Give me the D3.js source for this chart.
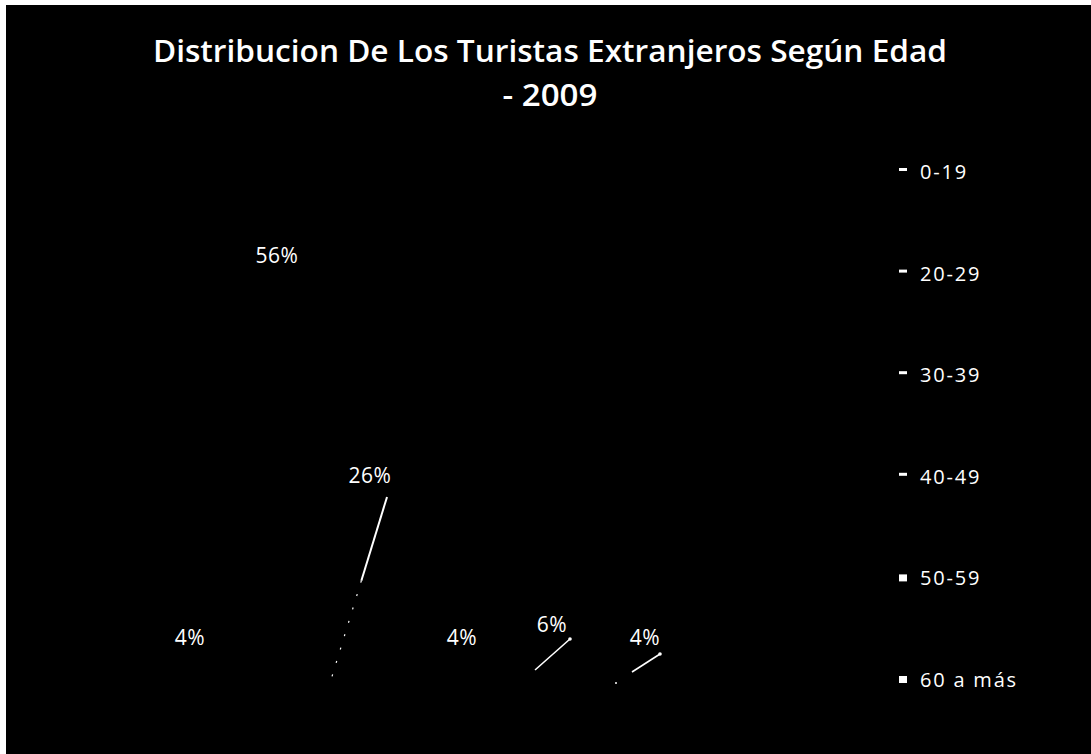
<!DOCTYPE html>
<html>
<head>
<meta charset="utf-8">
<script src="https://cdn.jsdelivr.net/npm/d3@7"></script>
<style>
  html, body { margin: 0; padding: 0; background: #fff; }
  svg { display: block; }
</style>
</head>
<body>
<svg id="chart" width="1091" height="754"></svg>
<script>
// ---- data ----
const title1 = "Distribucion De Los Turistas Extranjeros Según Edad";
const title2 = "- 2009";
const categories = ["0-19", "20-29", "30-39", "40-49", "50-59", "60 a más"];
const values = [4, 56, 26, 4, 6, 4];

// ---- layout (not data) ----
const W = 1091, H = 754;
const pieCenter = [410, 470], pieRadius = 215;
// label anchor offsets from the pie centre (text centre, baseline)
const labelOffsets = [[-220, 175], [-133, -207], [-40, 13], [52, 175], [142, 162], [235, 175]];
// leader lines (start, end) relative to the pie centre; null = none
const leaderOffsets = [null, null, [[-23, 27], [-80, 213]], null, [[160, 169], [125, 200]], [[250, 184], [222, 202]]];

const svg = d3.select("#chart");
svg.append("rect").attr("width", W).attr("height", H).attr("fill", "#fff");
svg.append("rect").attr("x", 6).attr("y", 5).attr("width", W - 6).attr("height", H - 5).attr("fill", "#000");

// title
svg.append("text").attr("x", 550).attr("y", 62).attr("text-anchor", "middle")
  .attr("font-family", "'Open Sans', sans-serif").attr("font-weight", 600).attr("font-size", 31)
  .attr("textLength", 794).attr("lengthAdjust", "spacingAndGlyphs")
  .attr("fill", "#fff").text(title1);
svg.append("text").attr("x", 550).attr("y", 106).attr("text-anchor", "middle")
  .attr("font-family", "'Open Sans', sans-serif").attr("font-weight", 600).attr("font-size", 31)
  .attr("textLength", 95).attr("lengthAdjust", "spacingAndGlyphs")
  .attr("fill", "#fff").text(title2);

// pie (slices are black on black, as in the reference)
const pie = d3.pie().sort(null).value(d => d)(values);
const arc = d3.arc().innerRadius(0).outerRadius(pieRadius);
const g = svg.append("g").attr("transform", `translate(${pieCenter[0]},${pieCenter[1]})`);
g.selectAll("path.slice").data(pie).join("path").attr("class", "slice")
  .attr("d", arc).attr("fill", "#000").attr("stroke", "#000");

const total = d3.sum(values);
const fmt = d3.format(".0%");

// leader lines
pie.forEach((p, i) => {
  const l = leaderOffsets[i];
  if (!l) return;
  if (i === 2) {
    const mid = [l[0][0] + (l[1][0] - l[0][0]) * 0.45, l[0][1] + (l[1][1] - l[0][1]) * 0.45];
    g.append("line").attr("x1", l[0][0]).attr("y1", l[0][1]).attr("x2", mid[0]).attr("y2", mid[1])
      .attr("stroke", "#fff").attr("stroke-width", 2);
    g.append("line").attr("x1", mid[0]).attr("y1", mid[1]).attr("x2", l[1][0]).attr("y2", l[1][1])
      .attr("stroke", "#fff").attr("stroke-width", 1.2).attr("stroke-dasharray", "2,12");
  } else {
    g.append("line").attr("x1", l[0][0]).attr("y1", l[0][1]).attr("x2", l[1][0]).attr("y2", l[1][1])
      .attr("stroke", "#fff").attr("stroke-width", 1.6);
    g.append("circle").attr("cx", l[0][0]).attr("cy", l[0][1]).attr("r", 1.8).attr("fill", "#fff");
  }
});
// stray dot near the last slice
g.append("circle").attr("cx", leaderOffsets[5][1][0] - 16).attr("cy", leaderOffsets[5][1][1] + 11)
  .attr("r", 1).attr("fill", "#fff");

// data labels
g.selectAll("text.lbl").data(pie).join("text").attr("class", "lbl")
  .attr("x", (d, i) => labelOffsets[i][0]).attr("y", (d, i) => labelOffsets[i][1])
  .attr("text-anchor", "middle")
  .attr("font-family", "'Open Sans', sans-serif").attr("font-size", 21)
  .attr("letter-spacing", 0.5)
  .attr("fill", "#fff")
  .text(d => fmt(d.value / total));

// legend
const ly = d3.scalePoint().domain(categories).range([179, 687]);
const leg = svg.append("g");
categories.forEach((c, i) => {
  const y = ly(c);
  const big = i >= 4;
  leg.append("rect").attr("x", 899).attr("y", y - 11)
    .attr("width", 8).attr("height", big ? 7 : 3).attr("fill", "#fff");
  leg.append("text").attr("x", 920).attr("y", y)
    .attr("font-family", "'Open Sans', sans-serif").attr("font-size", 20)
    .attr("letter-spacing", 1.8).attr("fill", "#fff").text(c);
});
</script>
</body>
</html>
